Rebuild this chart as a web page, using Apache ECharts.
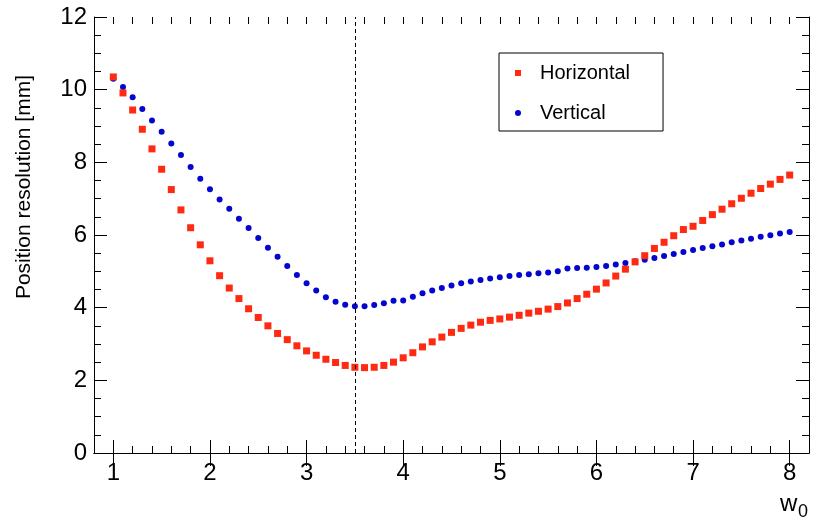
<!DOCTYPE html>
<html>
<head>
<meta charset="utf-8">
<script src="https://cdn.jsdelivr.net/npm/echarts@6/dist/echarts.min.js"></script>
<style>
  html, body { margin: 0; padding: 0; background: #fff; }
  #chart { width: 830px; height: 528px; }
</style>
</head>
<body>
<div id="chart"></div>
<script>
// w0 values (x)
var w0 = [1.0, 1.1, 1.2, 1.3, 1.4, 1.5, 1.6, 1.7, 1.8, 1.9,
          2.0, 2.1, 2.2, 2.3, 2.4, 2.5, 2.6, 2.7, 2.8, 2.9,
          3.0, 3.1, 3.2, 3.3, 3.4, 3.5, 3.6, 3.7, 3.8, 3.9,
          4.0, 4.1, 4.2, 4.3, 4.4, 4.5, 4.6, 4.7, 4.8, 4.9,
          5.0, 5.1, 5.2, 5.3, 5.4, 5.5, 5.6, 5.7, 5.8, 5.9,
          6.0, 6.1, 6.2, 6.3, 6.4, 6.5, 6.6, 6.7, 6.8, 6.9,
          7.0, 7.1, 7.2, 7.3, 7.4, 7.5, 7.6, 7.7, 7.8, 7.9, 8.0];

// position resolution [mm]
var horizontal = [10.35, 9.91, 9.44, 8.91, 8.37, 7.81, 7.25, 6.69, 6.20, 5.73,
                  5.29, 4.88, 4.54, 4.25, 3.97, 3.73, 3.50, 3.29, 3.12, 2.95,
                  2.81, 2.69, 2.58, 2.49, 2.41, 2.36, 2.35, 2.36, 2.41, 2.50,
                  2.62, 2.76, 2.92, 3.06, 3.19, 3.32, 3.43, 3.52, 3.60, 3.65,
                  3.69, 3.74, 3.79, 3.85, 3.90, 3.96, 4.03, 4.13, 4.25, 4.37,
                  4.51, 4.68, 4.87, 5.06, 5.26, 5.43, 5.63, 5.80, 5.98, 6.15,
                  6.24, 6.40, 6.56, 6.71, 6.86, 7.01, 7.15, 7.28, 7.40, 7.53, 7.65];
var vertical = [10.30, 10.07, 9.79, 9.47, 9.15, 8.84, 8.52, 8.20, 7.87, 7.55,
                7.26, 6.98, 6.72, 6.45, 6.19, 5.92, 5.65, 5.40, 5.15, 4.90,
                4.67, 4.47, 4.29, 4.16, 4.08, 4.04, 4.04, 4.07, 4.12, 4.19,
                4.20, 4.30, 4.40, 4.47, 4.54, 4.61, 4.67, 4.72, 4.76, 4.80,
                4.84, 4.87, 4.90, 4.92, 4.95, 4.97, 5.00, 5.08, 5.09, 5.10,
                5.12, 5.15, 5.19, 5.23, 5.28, 5.32, 5.37, 5.42, 5.48, 5.53,
                5.59, 5.64, 5.69, 5.74, 5.80, 5.85, 5.90, 5.95, 5.99, 6.04, 6.08];

var xTicks = [1, 2, 3, 4, 5, 6, 7, 8];
var cutW0 = 3.5;

var font = "'Liberation Sans', Arial, Helvetica, sans-serif";

function pairs(xs, ys){
	var out = [];
	for (var i = 0; i < xs.length; i++) out.push([xs[i], ys[i]]);
	return out;
}

// common axis bits
var line = {show: true, lineStyle: {color: '#000', width: 1}};
function xAx(grid, pos, minor, labels){
	return {
		type: 'value', gridIndex: grid, position: pos, min: 0.8, max: 8.2,
		interval: minor ? 0.2 : undefined,
		axisLine: minor ? {show: false} : line,
		axisTick: minor ? {show: true, inside: true, length: 7, lineStyle: {color: '#000'}}
		                : {show: true, inside: true, length: 13, customValues: xTicks, lineStyle: {color: '#000'}},
		axisLabel: labels ? {show: true, customValues: xTicks, margin: 8, color: '#000', fontSize: 24, fontFamily: font}
		                  : {show: false},
		splitLine: {show: false}
	};
}
function yAx(grid, pos, labels){
	return {
		type: 'value', gridIndex: grid, position: pos, min: 0, max: 12, interval: 2,
		axisLine: line,
		axisTick: {show: true, inside: true, length: 13, lineStyle: {color: '#000'}},
		minorTick: {show: true, splitNumber: 4, length: 7, lineStyle: {color: '#000'}},
		axisLabel: labels ? {show: true, margin: 7, color: '#000', fontSize: 24, fontFamily: font} : {show: false},
		splitLine: {show: false}, minorSplitLine: {show: false}
	};
}

var chart = echarts.init(document.getElementById('chart'));
chart.setOption({
	backgroundColor: '#fff',
	animation: false,
	grid: [
		{left: 94, right: 21, top: 17, bottom: 75, outerBoundsMode: 'none'},
		{left: 94, right: 21, top: 17, bottom: 75, outerBoundsMode: 'none'}
	],
	xAxis: [xAx(0, 'bottom', false, true), xAx(0, 'top', false, false),
	        xAx(1, 'bottom', true, false), xAx(1, 'top', true, false)],
	yAxis: [yAx(0, 'left', true), yAx(0, 'right', false),
	        {type: 'value', gridIndex: 1, min: 0, max: 12, show: false}],
	legend: {
		left: 499, top: 53, orient: 'vertical',
		borderColor: '#000', borderWidth: 1,
		padding: [10, 33, 8, 16],
		itemGap: 20, itemWidth: 6, itemHeight: 6,
		textStyle: {fontSize: 20, lineHeight: 20, color: '#000', fontFamily: font, padding: [0, 0, 0, 14]},
		data: [{name: 'Horizontal', icon: 'rect'}, {name: 'Vertical', icon: 'circle'}]
	},
	series: [
		{
			name: 'Vertical', type: 'scatter', xAxisIndex: 0, yAxisIndex: 0,
			symbol: 'circle', symbolSize: 6, z: 2,
			itemStyle: {color: '#0505d0', opacity: 1},
			emphasis: {disabled: true},
			data: pairs(w0, vertical),
			markLine: {
				silent: true, symbol: ['none', 'none'],
				label: {show: false},
				lineStyle: {color: '#000', width: 1, type: [4, 3]},
				data: [{xAxis: cutW0}]
			}
		},
		{
			name: 'Horizontal', type: 'scatter', xAxisIndex: 0, yAxisIndex: 0,
			symbol: 'rect', symbolSize: 7, z: 3,
			itemStyle: {color: '#fe2a12', opacity: 1},
			emphasis: {disabled: true},
			data: pairs(w0, horizontal)
		}
	],
	graphic: [
		{type: 'text', x: 24, y: 75, rotation: Math.PI / 2,
		 style: {text: 'Position resolution [mm]', font: '21px ' + font, fill: '#000', align: 'right', verticalAlign: 'middle'}},
		{type: 'text', x: 780, y: 504,
		 style: {text: 'w', font: '24px ' + font, fill: '#000', align: 'left', verticalAlign: 'middle'}},
		{type: 'text', x: 798, y: 512,
		 style: {text: '0', font: '18px ' + font, fill: '#000', align: 'left', verticalAlign: 'middle'}}
	]
});
</script>
</body>
</html>
